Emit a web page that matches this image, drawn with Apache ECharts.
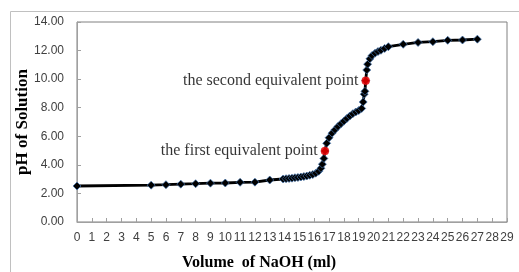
<!DOCTYPE html>
<html>
<head>
<meta charset="utf-8">
<script src="https://cdn.jsdelivr.net/npm/echarts@6/dist/echarts.min.js"></script>
<style>
  html, body { margin: 0; padding: 0; background: #fff; }
  #chart { width: 519px; height: 272px; }
</style>
</head>
<body>
<div id="chart"></div>
<script>
// titration data
var volume = [0, 5, 6, 7, 8, 9, 10, 11, 12, 13,
  13.9, 14.1, 14.3, 14.5, 14.7, 14.9, 15.1, 15.3, 15.5, 15.7, 15.9, 16.1, 16.3, 16.45, 16.55, 16.65, 16.72,
  16.84, 17.0, 17.2, 17.4, 17.6, 17.8, 18.0, 18.2, 18.4, 18.6, 18.8, 19.0, 19.2, 19.3, 19.37, 19.42, 19.47,
  19.54, 19.6, 19.75, 19.9, 20.1, 20.3, 20.5, 20.75, 21.0, 22, 23, 24, 25, 26, 27];
var ph = [2.52, 2.58, 2.61, 2.65, 2.68, 2.72, 2.73, 2.78, 2.79, 2.94,
  3.01, 3.03, 3.05, 3.07, 3.10, 3.12, 3.15, 3.18, 3.22, 3.27, 3.32, 3.42, 3.55, 3.76, 4.05, 4.45, 4.97,
  5.51, 5.90, 6.22, 6.46, 6.68, 6.88, 7.06, 7.25, 7.42, 7.58, 7.70, 7.80, 7.95, 8.40, 8.95, 9.15, 9.89,
  10.64, 11.05, 11.42, 11.65, 11.82, 11.93, 12.02, 12.15, 12.27, 12.44, 12.57, 12.62, 12.72, 12.74, 12.80];

// equivalent points
var eqVolume = [16.72, 19.47];
var eqPh = [4.97, 9.89];
var eqNames = ['the first equivalent point', 'the second equivalent point'];

var chart = echarts.init(document.getElementById('chart'), null, { renderer: 'canvas' });

var lineData = volume.map(function (v, i) { return [v, ph[i]]; });
var eqData = eqVolume.map(function (v, i) { return { value: [v, eqPh[i]], name: eqNames[i] }; });

var option = {
  backgroundColor: '#ffffff',
  animation: false,
  graphic: [{
    type: 'rect',
    shape: { x: 10.5, y: 11.5, width: 530, height: 280 },
    style: { fill: 'none', stroke: '#c0c0c0', lineWidth: 1 },
    silent: true
  }],
  grid: {
    left: 77, right: 12, top: 22, bottom: 50,
    outerBoundsMode: 'none',
    show: true, borderColor: '#808080', borderWidth: 1
  },
  xAxis: {
    type: 'value',
    min: 0, max: 29, interval: 1,
    name: 'Volume  of NaOH (ml)',
    nameLocation: 'middle',
    nameGap: 33,
    nameTextStyle: { fontFamily: 'Liberation Serif', fontWeight: 'bold', fontSize: 16, color: '#000', padding: [0, 66, 0, 0] },
    axisLine: { lineStyle: { color: '#a0a0a0' } },
    axisTick: { inside: true, length: 4, lineStyle: { color: '#a0a0a0' } },
    axisLabel: { fontFamily: 'Liberation Sans', fontSize: 12, color: '#404040', margin: 10 },
    splitLine: { show: false }
  },
  yAxis: {
    type: 'value',
    min: 0, max: 14, interval: 2,
    name: 'pH of Solution',
    nameLocation: 'middle',
    nameGap: 46,
    nameMoveOverlap: false,
    nameTextStyle: { fontFamily: 'Liberation Serif', fontWeight: 'bold', fontSize: 17, color: '#000' },
    axisLine: { show: true, lineStyle: { color: '#a0a0a0' } },
    axisTick: { show: true, inside: true, length: 4, lineStyle: { color: '#a0a0a0' } },
    axisLabel: {
      fontFamily: 'Liberation Sans', fontSize: 12, color: '#404040', margin: 13,
      formatter: function (v) { return v.toFixed(2); }
    },
    splitLine: { show: false }
  },
  series: [{
    type: 'line',
    data: lineData,
    symbol: 'diamond',
    symbolSize: 8,
    lineStyle: { color: '#000', width: 2.8 },
    itemStyle: { color: '#000', borderColor: 'rgba(70,120,180,0.7)', borderWidth: 1 },
    z: 2
  }, {
    type: 'scatter',
    data: eqData,
    symbol: 'circle',
    symbolSize: 8,
    itemStyle: { color: '#ff0000', borderColor: '#c00000', borderWidth: 0.5 },
    label: {
      show: true,
      position: 'left',
      distance: 3,
      formatter: '{b}',
      fontFamily: 'Liberation Serif',
      fontSize: 16,
      color: '#000'
    },
    z: 3
  }]
};

chart.setOption(option);
</script>
</body>
</html>
